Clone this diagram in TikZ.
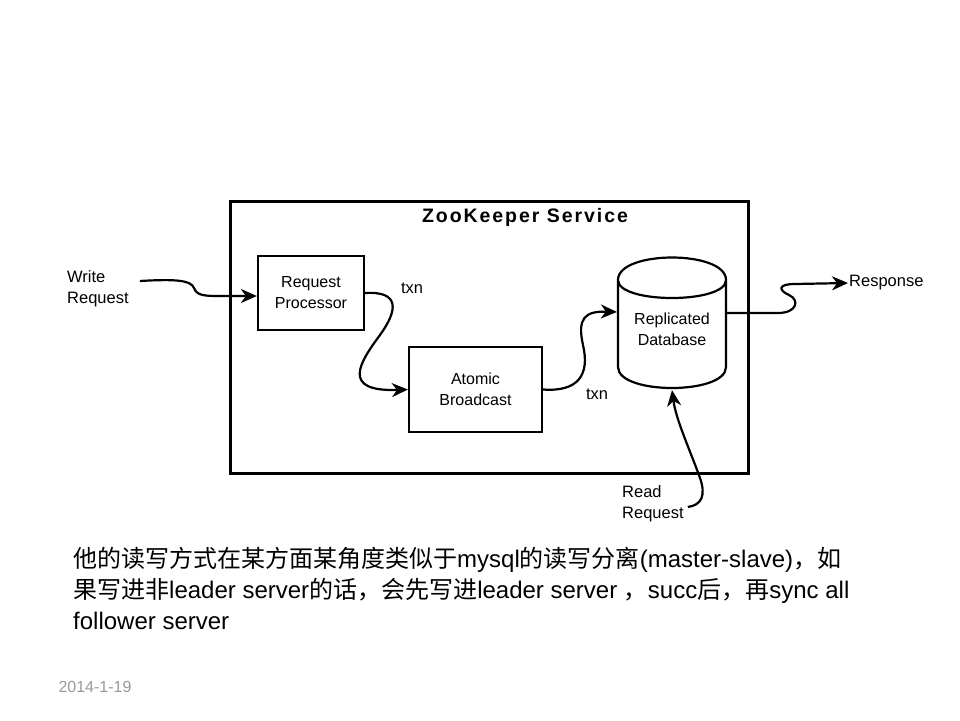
\documentclass[tikz,border=0pt]{standalone}
\usepackage{fontspec}
\setmainfont{Liberation Sans}
\newfontfamily\cjk{Noto Sans CJK SC}
\newfontfamily\titlefont[LetterSpace=10]{Liberation Sans Bold}
\usetikzlibrary{arrows.meta,positioning}

\begin{document}
\begin{tikzpicture}[x=1pt,y=-1pt,
    box/.style={draw, line width=2.2pt, align=center, font=\fontsize{16}{21}\selectfont},
    lbl/.style={align=left, inner sep=1pt, font=\fontsize{16.5}{21}\selectfont},
    wire/.style={line width=2.2pt, -{Stealth[length=16pt,width=14pt,inset=5pt]}}]
    \useasboundingbox (0,0) rectangle (960,720);
    % service frame
    \node[draw, line width=3pt, minimum width=518pt, minimum height=272pt] (svc) at (489,337) {};
    \node[font=\titlefont\fontsize{19.5}{22}\selectfont] (title) at (525,217) {ZooKeeper Service};
    \node[box, minimum width=106pt, minimum height=74pt] (rp) at (311,293) {Request\\Processor};
    \node[box, minimum width=133pt, minimum height=85pt] (ab) at (475.5,389.5) {Atomic\\Broadcast};
    % database drum
    \draw[line width=2.2pt] (618,280) -- (618,367) .. controls (618,395) and (726,395) .. (726,367) -- (726,280)
        .. controls (726,250) and (618,250) .. (618,280) .. controls (618,304) and (726,304) .. (726,280);
    \node[box, draw=none, minimum width=108pt, minimum height=120pt] (db) at (672,329) {Replicated\\Database};
    % outside labels
    \node[lbl, anchor=west] (wr) at (66,289) {Write\\Request};
    \node[lbl, anchor=west] (resp) at (848,283) {Response};
    \node[lbl, anchor=west] (rr) at (621,504) {Read\\Request};
    \node[lbl] (t1) at (412,288) {txn};
    \node[lbl] (t2) at (597,394) {txn};
    % wavy connectors
    \draw[wire] ([xshift=10pt,yshift=8pt]wr.east) .. controls (175,279) and (191,280) .. (194,288)
        .. controls (197,296) and (205,296) .. (222,296) -- ([yshift=-3pt]rp.west);
    \draw[wire] (rp.east) .. controls (400,291) and (398,310) .. (380,335)
        .. controls (360,362) and (340,392) .. (ab.west);
    \draw[wire] (ab.east) .. controls (578,392) and (590,375) .. (583,345)
        .. controls (577,318) and (585,311) .. ([yshift=17pt]db.west);
    \draw[wire] ([yshift=16pt]db.east) -- (778,313) .. controls (797,313) and (800,300) .. (789,295)
        .. controls (778,290) and (778,284) .. (795,284) -- (resp.west);
    \draw[wire] ([xshift=3pt,yshift=-3pt]rr.east) .. controls (702,505) and (706,495) .. (700,478)
        .. controls (690,450) and (676,420) .. (db.south);
    % note below
    \node[anchor=west, align=left, inner sep=0pt, font=\fontsize{24}{31}\selectfont] (note) at (73,588)
        {{\cjk 他的读写方式在某方面某角度类似于}mysql{\cjk 的读写分离}(master-slave){\cjk ，如}\\
         {\cjk 果写进非}leader server{\cjk 的话，会先写进}leader server {\cjk ，}succ{\cjk 后，再}sync all\\
         follower server};
    \node[anchor=west, text=black!40, font=\fontsize{16}{18}\selectfont] (date) at (55,687) {2014-1-19};
\end{tikzpicture}
\end{document}
